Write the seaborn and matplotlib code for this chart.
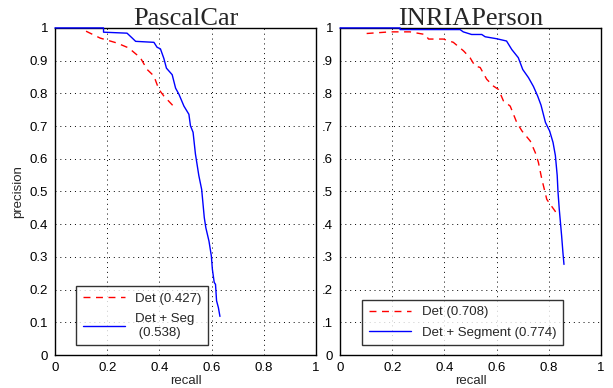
import numpy as np
import matplotlib
matplotlib.use('Agg')
import matplotlib.pyplot as plt
import seaborn as sns

# PascalCar curves (recall, precision)
car_det_recall = [0.119, 0.173, 0.237, 0.282, 0.327, 0.353, 0.379, 0.398, 0.417, 0.456]
car_det_prec = [0.990, 0.969, 0.954, 0.939, 0.909, 0.873, 0.853, 0.812, 0.792, 0.759]
car_seg_recall = [0.0, 0.186, 0.186, 0.276, 0.296, 0.309, 0.379, 0.391, 0.404, 0.417, 0.427,
                  0.449, 0.462, 0.475, 0.494, 0.513, 0.519, 0.529, 0.538, 0.551, 0.562,
                  0.572, 0.578, 0.590, 0.599, 0.603, 0.610, 0.615, 0.619, 0.626, 0.632]
car_seg_prec = [1.0, 1.0, 0.987, 0.984, 0.969, 0.959, 0.956, 0.941, 0.936, 0.907, 0.877,
                0.857, 0.816, 0.797, 0.761, 0.736, 0.701, 0.681, 0.615, 0.549, 0.506,
                0.420, 0.389, 0.348, 0.303, 0.262, 0.222, 0.216, 0.166, 0.145, 0.118]

# INRIAPerson curves
inria_det_recall = [0.102, 0.192, 0.268, 0.326, 0.339, 0.396, 0.434, 0.473, 0.498, 0.517,
                    0.537, 0.562, 0.588, 0.607, 0.626, 0.652, 0.677, 0.697, 0.729, 0.748,
                    0.760, 0.773, 0.786, 0.792, 0.805, 0.824, 0.830]
inria_det_prec = [0.983, 0.988, 0.988, 0.980, 0.966, 0.966, 0.956, 0.930, 0.909, 0.884,
                  0.879, 0.843, 0.822, 0.812, 0.777, 0.761, 0.711, 0.685, 0.654, 0.619,
                  0.589, 0.538, 0.496, 0.476, 0.461, 0.440, 0.430]
inria_seg_recall = [0.0, 0.230, 0.230, 0.460, 0.472, 0.504, 0.543, 0.556, 0.600, 0.638,
                    0.658, 0.683, 0.700, 0.722, 0.741, 0.757, 0.770, 0.787, 0.803, 0.816,
                    0.825, 0.832, 0.835, 0.840, 0.849, 0.854, 0.858]
inria_seg_prec = [1.0, 1.0, 0.995, 0.995, 0.988, 0.980, 0.980, 0.973, 0.967, 0.960,
                  0.934, 0.909, 0.873, 0.848, 0.821, 0.792, 0.764, 0.711, 0.685, 0.650,
                  0.610, 0.549, 0.500, 0.445, 0.364, 0.313, 0.277]

car_labels = ['Det (0.427)', 'Det + Seg\n (0.538)']
inria_labels = ['Det (0.708)', 'Det + Segment (0.774)']

x_ticks = [0, 0.2, 0.4, 0.6, 0.8, 1]
x_tick_labels = ['0', '0.2', '0.4', '0.6', '0.8', '1']
y_ticks = [0, 0.1, 0.2, 0.3, 0.4, 0.5, 0.6, 0.7, 0.8, 0.9, 1]
y_labels_left = ['0', '0.1', '0.2', '0.3', '0.4', '0.5', '0.6', '0.7', '0.8', '0.9', '1']
y_labels_right = ['0', '.1', '.2', '.3', '.4', '.5', '.6', '.7', '.8', '.9', '1']

sns.set_style('white')
plt.rcParams['font.family'] = ['Liberation Sans', 'DejaVu Sans']

fig = plt.figure(figsize=(6.13, 3.88), dpi=100)
ax1 = fig.add_axes([0.0897, 0.085, 0.4258, 0.843])
ax2 = fig.add_axes([0.5547, 0.085, 0.4258, 0.843])


def draw_panel(ax, det_x, det_y, seg_x, seg_y, labels, title, ylabels, legend_box):
    sns.lineplot(x=det_x, y=det_y, ax=ax, color='#ff0000', lw=1.0, sort=False,
                 estimator=None, label=labels[0])
    ax.lines[-1].set_dashes([5, 4])
    sns.lineplot(x=seg_x, y=seg_y, ax=ax, color='#0000ff', lw=1.0, sort=False,
                 estimator=None, label=labels[1])
    for ln in ax.lines:
        ln.set_clip_on(False)
        ln.set_zorder(3)
    ax.set_xlim(0, 1)
    ax.set_ylim(0, 1)
    ax.set_xticks(x_ticks)
    ax.set_xticklabels(x_tick_labels)
    ax.set_yticks(y_ticks)
    ax.set_yticklabels(ylabels)
    ax.grid(True, color='k', linestyle=(0, (1, 4)), linewidth=0.7)
    for s in ax.spines.values():
        s.set_visible(True)
        s.set_color('k')
        s.set_linewidth(1.0)
    ax.tick_params(direction='in', length=3, labelsize=9.5, pad=5, colors='k')
    ax.set_title(title, family='Liberation Serif', fontsize=19, pad=2)
    ax.set_xlabel('recall', fontsize=9.5, labelpad=1)
    leg = ax.legend(loc='lower left', bbox_to_anchor=legend_box, fontsize=9.5,
                    frameon=True, fancybox=False, edgecolor='k', handlelength=3.2,
                    borderpad=0.5, labelspacing=0.6)
    leg.get_frame().set_linewidth(1.0)
    leg.set_zorder(5)


draw_panel(ax1, car_det_recall, car_det_prec, car_seg_recall, car_seg_prec,
           car_labels, 'PascalCar', y_labels_left, (0.055, 0.01))
draw_panel(ax2, inria_det_recall, inria_det_prec, inria_seg_recall, inria_seg_prec,
           inria_labels, 'INRIAPerson', y_labels_right, (0.06, 0.01))
ax1.set_ylabel('precision', fontsize=9.5, labelpad=4)
ax2.set_ylabel('')

fig.savefig('out.png', dpi=100)
